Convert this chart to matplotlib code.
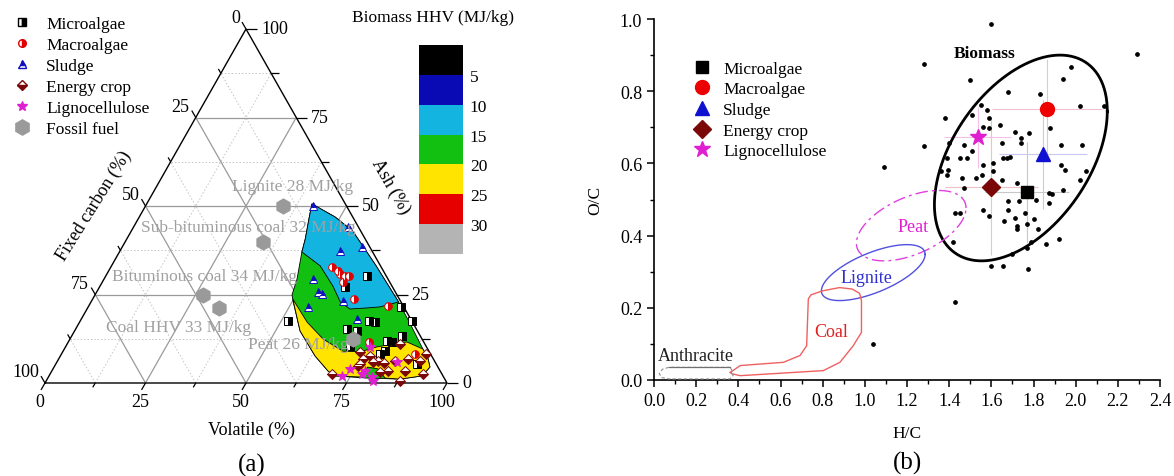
import numpy as np
import matplotlib.pyplot as plt
from matplotlib.lines import Line2D
from matplotlib.patches import Polygon
from matplotlib.colors import ListedColormap, BoundaryNorm
from matplotlib.cm import ScalarMappable

plt.rcParams['font.family'] = ['Liberation Serif', 'DejaVu Serif']

W, H = 1174, 477

# ---------------- (a) ternary data: volatile %, ash % (fixed carbon = rest)
micro_vol = [65.0, 61.0, 77.9, 51.6, 71.8, 73.5, 67.5, 70.3, 82.5, 82.2, 70.7, 79.2, 80.5, 79.2, 80.1, 89.8]
micro_ash = [30.2, 27.1, 21.5, 17.5, 17.5, 17.2, 15.3, 14.7, 17.5, 13.3, 10.5, 11.9, 11.6, 8.2, 9.0, 5.4]
macro_vol = [55.0, 58.0, 59.5, 60.5, 59.8, 65.0, 74.4, 74.8, 87.9, 57.1]
macro_ash = [32.8, 30.8, 30.2, 30.2, 28.5, 23.7, 21.8, 11.6, 8.2, 31.6]
sludge_vol = [41.7, 53.4, 54.8, 59.7, 52.0, 55.0, 56.3, 54.7, 62.5, 68.6]
sludge_ash = [50.0, 44.1, 37.3, 38.4, 29.4, 25.7, 25.1, 21.5, 23.2, 18.1]
crop_vol = [70.1, 75.5, 75.7, 74.0, 77.0, 79.7, 81.5, 83.6, 82.8, 86.9, 90.2, 90.7, 92.7, 88.0, 81.7, 78.6, 84.0, 75.7, 87.9]
crop_ash = [2.5, 4.8, 6.8, 8.8, 7.6, 6.2, 5.6, 3.4, 11.0, 6.8, 6.2, 8.2, 2.5, 0.6, 3.1, 5.9, 6.2, 5.4, 3.4]
ligno_vol = [73.9, 72.9, 77.6, 77.9, 80.5, 81.3, 84.6, 75.7]
ligno_ash = [4.0, 2.0, 2.5, 3.4, 1.7, 0.6, 5.9, 10.2]

fossil_names = ['Lignite 28 MJ/kg', 'Sub-bituminous coal 32 MJ/kg', 'Bituminous coal 34 MJ/kg',
                'Coal HHV 33 MJ/kg', 'Peat 26 MJ/kg']
fossil_vol = [34.2, 34.3, 26.9, 32.7, 70.4]
fossil_ash = [50.0, 39.8, 24.9, 21.2, 12.4]
fossil_txt_off = [(10, 20), (-15, 15), (1, 19), (-41, -19), (-55, -5)]   # label offsets, px

# HHV regions (outline of data cloud, 10-15 band, 20-25 band)
hhv_all_vol = [41.1, 48.7, 55.1, 65.6, 76.5, 82.5, 89.2, 91.9, 93.5, 92.8, 87.7, 79.4, 71.1,
               68.7, 63.4, 56.1, 50.3, 49.0, 48.0, 45.4, 44.4, 42.5]
hhv_all_ash = [50.6, 46.9, 42.9, 33.3, 22.9, 16.7, 9.6, 6.8, 4.5, 2.0, 1.1, 1.4, 2.0,
               3.4, 7.6, 14.7, 22.9, 24.9, 29.4, 37.0, 40.7, 46.3]
hhv15_vol = [41.1, 48.7, 55.1, 65.6, 76.5, 72.6, 69.5, 65.4, 62.0, 57.9, 51.9, 45.4, 44.4, 42.5]
hhv15_ash = [50.6, 46.9, 42.9, 33.3, 22.9, 21.5, 21.2, 20.9, 22.9, 27.4, 33.1, 37.0, 40.7, 46.3]
hhv25_vol = [49.8, 56.6, 63.0, 69.6, 74.0, 77.5, 81.1, 84.2, 89.2, 91.9, 93.5, 92.8, 87.7, 83.9,
             80.8, 78.0, 77.6, 71.1, 68.7, 63.4, 56.1]
hhv25_ash = [23.7, 17.2, 12.4, 9.0, 8.8, 10.2, 11.0, 11.6, 9.6, 6.8, 4.5, 2.0, 1.1, 1.4,
             4.0, 4.5, 1.7, 2.0, 3.4, 7.6, 14.7]

hhv_bounds = [0, 5, 10, 15, 20, 25, 30, 35]
hhv_colors = ['#000000', '#0a0ab4', '#14b4e0', '#12c012', '#ffe400', '#e60000', '#b4b4b4']

# ---------------- (b) van Krevelen data
groups = ['Microalgae', 'Macroalgae', 'Sludge', 'Energy crop', 'Lignocellulose']
hc_mean = [1.77, 1.865, 1.845, 1.60, 1.535]
oc_mean = [0.52, 0.75, 0.625, 0.535, 0.672]
hc_err = [0.20, 0.26, 0.21, 0.22, 0.16]
oc_err = [0.14, 0.14, 0.15, 0.19, 0.085]

hc_dots = [1.28, 2.29, 1.98, 1.94, 1.50, 1.68, 1.83, 2.135, 2.02, 1.55, 1.58, 1.59, 1.51, 1.38,
           1.56, 1.59, 1.64, 1.88, 1.71, 1.78, 1.74, 1.74, 1.65, 1.47, 1.40, 1.28, 1.51, 1.93,
           2.03, 1.39, 1.45, 1.485, 1.56, 1.61, 1.655, 1.675, 1.69, 1.395, 1.36, 1.39, 1.46,
           1.525, 1.555, 1.61, 1.93, 1.95, 2.05, 2.02, 1.65, 1.72, 1.47, 1.875, 1.89, 1.94,
           1.81, 1.875, 1.68, 1.73, 1.56, 1.68, 1.59, 1.76, 1.80, 1.71, 1.66, 1.72, 1.72, 1.77,
           1.82, 1.43, 1.45, 1.42, 1.70, 1.77, 1.79, 1.86, 1.92, 1.60, 1.655, 1.775, 1.43, 1.04,
           1.60, 1.09]
oc_dots = [0.876, 0.904, 0.867, 0.835, 0.830, 0.798, 0.793, 0.760, 0.760, 0.761, 0.748, 0.725,
           0.734, 0.725, 0.702, 0.697, 0.706, 0.697, 0.688, 0.683, 0.670, 0.656, 0.656, 0.651,
           0.656, 0.647, 0.633, 0.651, 0.651, 0.615, 0.615, 0.615, 0.596, 0.601, 0.615, 0.616,
           0.619, 0.582, 0.578, 0.569, 0.560, 0.560, 0.569, 0.578, 0.596, 0.582, 0.578, 0.555,
           0.555, 0.546, 0.532, 0.518, 0.516, 0.527, 0.500, 0.491, 0.495, 0.495, 0.472, 0.472,
           0.454, 0.463, 0.445, 0.449, 0.440, 0.427, 0.417, 0.431, 0.417, 0.463, 0.463, 0.381,
           0.349, 0.367, 0.381, 0.376, 0.390, 0.316, 0.316, 0.307, 0.217, 0.100, 0.985, 0.590]

coal_hc = [0.362, 0.409, 0.614, 0.693, 0.724, 0.732, 0.745, 0.80, 0.88, 0.94, 0.975, 0.984,
           0.984, 0.945, 0.882, 0.803, 0.409, 0.37, 0.362]
coal_oc = [0.021, 0.040, 0.049, 0.068, 0.095, 0.225, 0.236, 0.247, 0.256, 0.252, 0.240, 0.220,
           0.132, 0.095, 0.049, 0.026, 0.012, 0.017, 0.021]
anth_hc = [0.36, 0.07, 0.04, 0.025, 0.035, 0.07, 0.36, 0.375, 0.37, 0.36]
anth_oc = [0.035, 0.035, 0.030, 0.018, 0.007, 0.003, 0.003, 0.012, 0.027, 0.035]

# ellipses: centre, x radius, y radius, phase (deg)
ell_biomass = (1.74, 0.615, 0.41, 0.285, 63.0)
ell_peat = (1.22, 0.4275, 0.26, 0.0975, 60.0)
ell_lignite = (1.04, 0.2975, 0.246, 0.0775, 49.5)


def tern(vol, ash):
    v = np.asarray(vol, float) / 100
    a = np.asarray(ash, float) / 100
    return v + a / 2, a


def ellipse(cx, cy, rx, ry, ph):
    t = np.linspace(0, 2 * np.pi, 240)
    return cx + rx * np.cos(t), cy + ry * np.cos(t - np.radians(ph))


fig = plt.figure(figsize=(W / 100, H / 100), dpi=100)

# ======================= (a) =======================
ax1 = fig.add_axes([0, 0, 580 / W, 1])
ax1.set_xlim(-45 / 402, 535 / 402)
ax1.set_ylim(-93 / 354, 384 / 354)
ax1.axis('off')


def tick(x, y, deg, L):
    dx = L * np.cos(np.radians(deg)) / 402
    dy = L * np.sin(np.radians(deg)) / 354
    ax1.plot([x, x + dx], [y, y + dy], color='k', lw=0.9, solid_capstyle='butt', zorder=4)


for g in np.arange(12.5, 100, 12.5):
    major = g % 25 == 0
    st = dict(color='#9a9a9a', lw=0.9) if major else dict(color='#c4c4c4', lw=0.7, ls=(0, (1.5, 2)))
    ax1.plot(*tern([0, 100 - g], [g, g]), zorder=1, **st)
    ax1.plot(*tern([g, g], [0, 100 - g]), zorder=1, **st)
    ax1.plot(*tern([100 - g, 0], [0, 100 - g]), zorder=1, **st)

ax1.add_patch(Polygon(np.column_stack(tern(hhv_all_vol, hhv_all_ash)), closed=True,
                      fc=hhv_colors[3], ec='k', lw=0.6, zorder=2))
ax1.add_patch(Polygon(np.column_stack(tern(hhv15_vol, hhv15_ash)), closed=True,
                      fc=hhv_colors[2], ec='k', lw=0.6, zorder=2.1))
ax1.add_patch(Polygon(np.column_stack(tern(hhv25_vol, hhv25_ash)), closed=True,
                      fc=hhv_colors[4], ec='k', lw=0.6, zorder=2.1))

ax1.plot(*tern([0, 100, 0, 0], [0, 0, 100, 0]), color='k', lw=1.0, zorder=4)

fs_t = 13
for g in np.arange(0, 100.1, 12.5):
    L = 8 if g % 25 == 0 else 5
    x, y = tern(0, 100 - g)
    tick(x, y, 120, L)
    x, y = tern(100 - g, g)
    tick(x, y, 0, L + 3)
    x, y = tern(g, 0)
    tick(x, y, 240, L)
for g in [0, 25, 50, 75, 100]:
    ax1.annotate(f'{g}', tern(0, 100 - g), xytext=(-6, 11), textcoords='offset pixels',
                 ha='right', va='center', fontsize=fs_t)
    ax1.annotate(f'{g}', tern(100 - g, g), xytext=(15, 0), textcoords='offset pixels',
                 ha='left', va='center', fontsize=fs_t)
    ax1.annotate(f'{g}', tern(g, 0), xytext=(-5, -19), textcoords='offset pixels',
                 ha='center', va='center', fontsize=fs_t)

mk = dict(ls='none', mew=0.7, zorder=5)
st_micro = dict(marker='s', ms=5.5, mfc='white', mfcalt='black', mec='black', fillstyle='left')
st_macro = dict(marker='o', ms=5.5, mfc='#e00000', mfcalt='white', mec='#e00000', fillstyle='right')
st_sludge = dict(marker='^', ms=6, mfc='#1010c0', mfcalt='white', mec='#1010c0', fillstyle='top')
st_crop = dict(marker='D', ms=5.5, mfc='#7a0808', mfcalt='white', mec='#7a0808', fillstyle='bottom')
st_ligno = dict(marker='*', ms=7, mfc='#e020d0', mec='#e020d0')
st_fossil = dict(marker='h', ms=11, mfc='#9a9a9a', mec='#9a9a9a')

ax1.plot(*tern(micro_vol, micro_ash), **st_micro, **mk)
ax1.plot(*tern(macro_vol, macro_ash), **st_macro, **mk)
ax1.plot(*tern(sludge_vol, sludge_ash), **st_sludge, **mk)
ax1.plot(*tern(crop_vol, crop_ash), **st_crop, **mk)
ax1.plot(*tern(ligno_vol, ligno_ash), **st_ligno, **mk)
ax1.plot(*tern(fossil_vol, fossil_ash), **st_fossil, **mk)
for name, v, a, off in zip(fossil_names, fossil_vol, fossil_ash, fossil_txt_off):
    ax1.annotate(name, tern(v, a), xytext=off, textcoords='offset pixels', ha='center',
                 va='center', fontsize=12.5, color='#a0a0a0', zorder=6)

leg_a = [Line2D([], [], ls='none', **s) for s in
         (st_micro, st_macro, st_sludge, st_crop, st_ligno, st_fossil)]
fig.legend(leg_a, groups + ['Fossil fuel'], loc='upper left', bbox_to_anchor=(13 / W, 1 - 17 / H),
           frameon=False, fontsize=12.5, handlelength=1.0, handletextpad=0.9,
           labelspacing=0.28, borderpad=0, borderaxespad=0)

fig.text(252 / W, 1 - 430 / H, 'Volatile (%)', ha='center', va='center', fontsize=13)
fig.text(252 / W, 1 - 465 / H, '(a)', ha='center', va='center', fontsize=18)
fig.text(94 / W, 1 - 206 / H, 'Fixed carbon (%)', ha='center', va='center', fontsize=13,
         rotation=58, rotation_mode='anchor')
fig.text(391 / W, 1 - 187 / H, 'Ash (%)', ha='center', va='center', fontsize=13,
         rotation=-60, rotation_mode='anchor')

cax = fig.add_axes([419 / W, (H - 255) / H, 44 / W, 209 / H])
cb = fig.colorbar(ScalarMappable(norm=BoundaryNorm(hhv_bounds, 7), cmap=ListedColormap(hhv_colors)),
                  cax=cax, ticks=hhv_bounds[1:-1])
cax.invert_yaxis()
cax.minorticks_off()
cb.outline.set_visible(False)
cax.tick_params(which='both', length=0, labelsize=12.5, pad=5)
fig.text(433 / W, 1 - 18 / H, 'Biomass HHV (MJ/kg)', ha='center', va='center', fontsize=12.5)

# ======================= (b) =======================
ax2 = fig.add_axes([654 / W, 96 / H, 506 / W, 361 / H])
ax2.set_xlim(0, 2.4)
ax2.set_ylim(0, 1.0)
for s in ['top', 'right']:
    ax2.spines[s].set_visible(False)
for s in ['left', 'bottom']:
    ax2.spines[s].set_linewidth(1.2)
ax2.set_xticks(np.arange(0, 2.41, 0.2))
ax2.set_xticks(np.arange(0, 2.41, 0.1), minor=True)
ax2.set_yticks(np.arange(0, 1.01, 0.2))
ax2.set_yticks(np.arange(0, 1.01, 0.1), minor=True)
ax2.xaxis.set_major_formatter(lambda v, p: f'{v:.1f}')
ax2.yaxis.set_major_formatter(lambda v, p: f'{v:.1f}')
ax2.tick_params(which='major', direction='out', length=5, width=1.1, labelsize=13)
ax2.tick_params(which='minor', direction='out', length=3, width=1.0)
ax2.set_xlabel('H/C', fontsize=12.5, labelpad=12)
ax2.set_ylabel('O/C', fontsize=12.5, labelpad=12)

err_cols = ['#c8c8c8', '#f2bfd0', '#c8c8f0', '#f0c0c8', '#f2c0ea']
for x, y, xe, ye, c in zip(hc_mean, oc_mean, hc_err, oc_err, err_cols):
    ax2.errorbar(x, y, xerr=xe, yerr=ye, fmt='none', ecolor=c, elinewidth=0.8, capsize=0, zorder=2)

ax2.plot(hc_dots, oc_dots, ls='none', marker='o', ms=2.4, color='k', zorder=3, clip_on=False)

ax2.plot(*ellipse(*ell_biomass), color='k', lw=2.0, zorder=3)
ax2.plot(*ellipse(*ell_peat), color='#e040e0', lw=1.0, ls=(0, (9, 3, 2, 3)), zorder=3)
ax2.plot(*ellipse(*ell_lignite), color='#5050e0', lw=1.0, zorder=3)
ax2.plot(coal_hc, coal_oc, color='#f06060', lw=1.0, zorder=3)
ax2.plot(anth_hc, anth_oc, color='#909090', lw=0.8, ls=(0, (3, 2)), zorder=3, clip_on=False)
ax2.plot(anth_hc[:2], anth_oc[:2], color='#707070', lw=0.9, zorder=3)

ax2.text(1.57, 0.905, 'Biomass', fontsize=12.5, fontweight='bold', ha='center', va='center')
ax2.text(1.23, 0.425, 'Peat', fontsize=13, color='#e020d0', ha='center', va='center')
ax2.text(1.01, 0.285, 'Lignite', fontsize=13, color='#3030d0', ha='center', va='center')
ax2.text(0.84, 0.133, 'Coal', fontsize=13, color='#e02020', ha='center', va='center')
ax2.text(0.20, 0.068, 'Anthracite', fontsize=13, color='#202020', ha='center', va='center')

big = [dict(marker='s', ms=9, color='k'), dict(marker='o', ms=10, color='#ee0000'),
       dict(marker='^', ms=10, color='#1010d0'), dict(marker='D', ms=9, color='#7a0808'),
       dict(marker='*', ms=12, color='#e020d0')]
for x, y, s in zip(hc_mean, oc_mean, big):
    ax2.plot(x, y, ls='none', zorder=5, **s)

leg_b = [Line2D([], [], ls='none', **s) for s in big]
ax2.legend(leg_b, groups, loc='upper left', bbox_to_anchor=(0.075, 0.885), frameon=False,
           fontsize=12.5, handlelength=1.2, handletextpad=0.6, labelspacing=0.26,
           borderpad=0, borderaxespad=0)

fig.text(908 / W, 1 - 463 / H, '(b)', ha='center', va='center', fontsize=18)

fig.savefig('out.png', dpi=100)
